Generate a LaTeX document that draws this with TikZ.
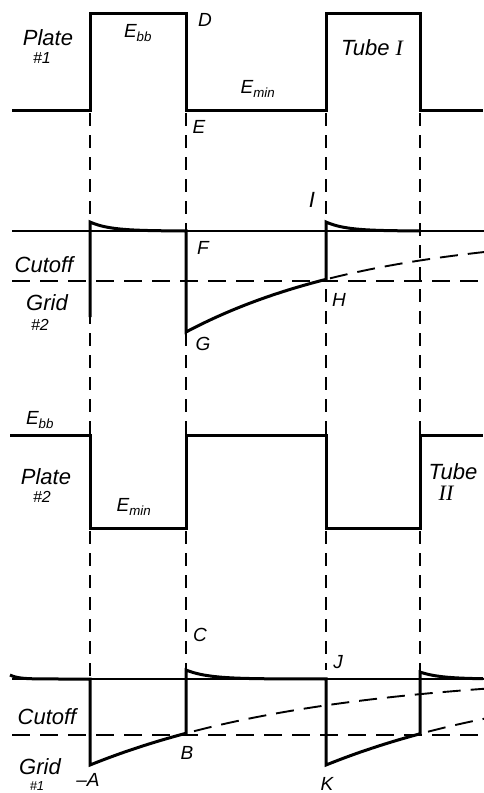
\documentclass[tikz,border=0pt]{standalone}
\usepackage{fontspec}
\setmainfont{Liberation Sans}
\newfontfamily\serifrm{Liberation Serif}
\begin{document}
\begin{tikzpicture}[x=1pt,y=-1pt,
  trace/.style={line width=3pt, line join=miter},
  axis/.style={line width=1.4pt},
  guide/.style={line width=1.5pt, dash pattern=on 13pt off 9pt},
  cut/.style={line width=1.9pt, dash pattern=on 18pt off 10pt},
  word/.style={font=\fontsize{22}{24}\selectfont\itshape, inner sep=0pt},
  letter/.style={font=\fontsize{19}{21}\selectfont\itshape, inner sep=0pt},
  small/.style={font=\fontsize{16}{18}\selectfont\itshape, inner sep=0pt}]

\useasboundingbox (0,0) rectangle (484,793);
\fill[white] (0,0) rectangle (484,793);

% guide lines
\foreach \gx/\gy in {90/679, 186/670, 326/670, 420/672}
  \draw[guide] (\gx,113) -- (\gx,\gy);

% Plate 1
\draw[trace] (12,110) -- (90,110) -- (90,13) -- (186,13) -- (186,110) -- (326,110)
  -- (326,13) -- (420,13) -- (420,110) -- (483,110);

% Grid 2
\draw[axis] (12,231) -- (484,231);
\draw[cut] (12,281) -- (484,281);
\draw[trace] (90,317) -- (90,222)
  -- plot[domain=90:186, samples=40] (\x,{231-9*exp(-(\x-90)/20)})
  -- (186,332)
  -- plot[domain=186:326, samples=40] (\x,{231+101*exp(-(\x-186)/190)})
  -- (326,222)
  -- plot[domain=326:420, samples=40] (\x,{231-9*exp(-(\x-326)/20)});
\draw[cut] plot[domain=330:484, samples=30] (\x,{231+101*exp(-(\x-186)/190)});

% Plate 2
\draw[trace] (10,435) -- (90,435) -- (90,528) -- (186,528) -- (186,435) -- (326,435)
  -- (326,528) -- (420,528) -- (420,435) -- (483,435);

% Grid 1
\draw[axis] (12,679) -- (484,679);
\draw[cut] (12,735) -- (484,735);
\draw[trace] plot[domain=10:90, samples=30] (\x,{679-4*exp(-(\x-10)/8)})
  -- (90,765)
  -- plot[domain=90:186, samples=40] (\x,{672+93*exp(-(\x-90)/230)})
  -- (186,670)
  -- plot[domain=186:326, samples=40] (\x,{679-9*exp(-(\x-186)/22)})
  -- (326,765)
  -- plot[domain=326:420, samples=40] (\x,{672+93*exp(-(\x-326)/230)})
  -- (420,672)
  -- plot[domain=420:483, samples=30] (\x,{679-7*exp(-(\x-420)/20)});
\draw[cut] plot[domain=194:484, samples=40] (\x,{672+93*exp(-(\x-90)/230)});
\draw[cut] plot[domain=428:484, samples=20] (\x,{672+93*exp(-(\x-326)/230)});

% labels
\node[word] (p1) at (48,38) {Plate};
\node[small] (p1n) at (42,58) {\#1};
\node[letter] (ebb1) at (138,33) {E\textsubscript{bb}};
\node[letter] (d) at (205,20) {D};
\node[letter] (e) at (199,127) {E};
\node[letter] (emin1) at (258,89) {E\textsubscript{min}};
\node[word] (t1) at (372,48) {Tube {\serifrm\itshape I}};
\node[word] (i) at (312,200) {I};
\node[letter] (f) at (203,248) {F};
\node[word] (cut2) at (44,265) {Cutoff};
\node[word] (g2) at (47,303) {Grid};
\node[small] (g2n) at (40,325) {\#2};
\node[letter] (g) at (203,344) {G};
\node[letter] (h) at (339,300) {H};
\node[letter] (ebb2) at (40,420) {E\textsubscript{bb}};
\node[word] (p2) at (46,477) {Plate};
\node[small] (p2n) at (42,497) {\#2};
\node[letter] (emin2) at (134,507) {E\textsubscript{min}};
\node[word] (t2) at (453,472) {Tube};
\node[word] (t2n) at (446,493) {\serifrm\itshape II};
\node[letter] (c) at (200,635) {C};
\node[word] (cut1) at (47,717) {Cutoff};
\node[word] (g1) at (40,767) {Grid};
\node[font=\fontsize{13}{15}\selectfont\itshape, inner sep=0pt] (g1n) at (37,786) {\#1};
\node[letter] (a) at (88,780) {\textendash A};
\node[letter] (b) at (187,753) {B};
\node[letter] (j) at (338,662) {J};
\node[letter] (k) at (327,784) {K};
\end{tikzpicture}
\end{document}
